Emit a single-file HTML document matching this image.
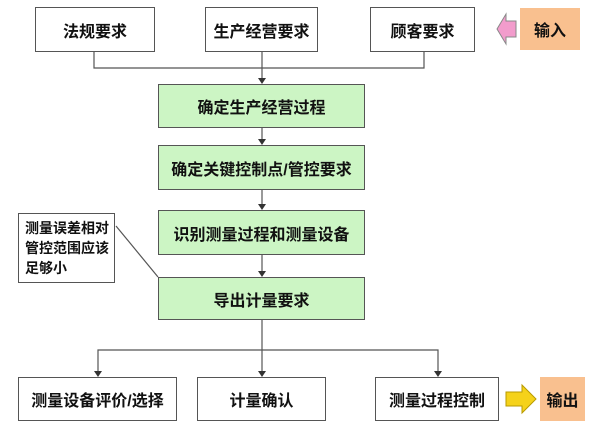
<!DOCTYPE html>
<html><head><meta charset="utf-8"><style>
body{margin:0;width:604px;height:429px;background:#fff;position:relative;overflow:hidden;font-family:"Liberation Sans","Noto Sans CJK SC",sans-serif;}
.b{position:absolute;box-sizing:border-box;border:1.5px solid #555;background:#fff;display:flex;align-items:center;justify-content:center;font-size:16px;color:#111;font-weight:bold;}
.g{background:#ccf5c4;}
</style></head><body>
<svg width="604" height="429" style="position:absolute;left:0;top:0">
<g stroke="#555" stroke-width="1.2" fill="none">
<polyline points="94,52 94,68 424,68 424,52"/>
<line x1="262" y1="52" x2="262" y2="78"/>
<line x1="262" y1="128" x2="262" y2="139"/>
<line x1="262" y1="190" x2="262" y2="204"/>
<line x1="262" y1="255" x2="262" y2="271"/>
<line x1="262" y1="320" x2="262" y2="371"/>
<polyline points="98,371 98,350 438,350 438,371"/>
<line x1="116" y1="226" x2="158" y2="277"/>
</g>
<g fill="#333">
<path d="M258,78 L266,78 L262,84z"/><path d="M258,139 L266,139 L262,145z"/><path d="M258,204 L266,204 L262,210z"/><path d="M258,271 L266,271 L262,277z"/><path d="M258,371 L266,371 L262,377z"/><path d="M94,371 L102,371 L98,377z"/><path d="M434,371 L442,371 L438,377z"/>
</g>
<path d="M497,29 L506,14 L506,21 L516,21 L516,37 L506,37 L506,44 z" fill="#f29ccc" stroke="#888" stroke-width="1"/>
<path d="M506,392 L522,392 L522,385 L536,399 L522,413 L522,406 L506,406 z" fill="#f5d21a" stroke="#b89a00" stroke-width="1"/>
</svg>
<div class="b" style="left:35px;top:7px;width:120px;height:45px">法规要求</div>
<div class="b" style="left:205px;top:7px;width:113px;height:45px">生产经营要求</div>
<div class="b" style="left:370px;top:7px;width:105px;height:45px">顾客要求</div>
<div class="b" style="left:520px;top:8px;width:60px;height:42px;background:#f9c08f;border:none">输入</div>
<div class="b g" style="left:158px;top:84px;width:207px;height:44px">确定生产经营过程</div>
<div class="b g" style="left:158px;top:145px;width:207px;height:45px">确定关键控制点/管控要求</div>
<div class="b g" style="left:158px;top:210px;width:207px;height:45px">识别测量过程和测量设备</div>
<div class="b g" style="left:158px;top:277px;width:207px;height:43px">导出计量要求</div>
<div class="b" style="left:18px;top:213px;width:97px;height:70px;font-size:14px;line-height:20px;justify-content:flex-start;padding-left:6px;text-align:left">测量误差相对<br>管控范围应该<br>足够小</div>
<div class="b" style="left:18px;top:377px;width:159px;height:44px">测量设备评价/选择</div>
<div class="b" style="left:197px;top:377px;width:129px;height:44px">计量确认</div>
<div class="b" style="left:375px;top:377px;width:124px;height:44px">测量过程控制</div>
<div class="b" style="left:540px;top:377px;width:45px;height:44px;background:#f9c08f;border:none">输出</div>
</body></html>
